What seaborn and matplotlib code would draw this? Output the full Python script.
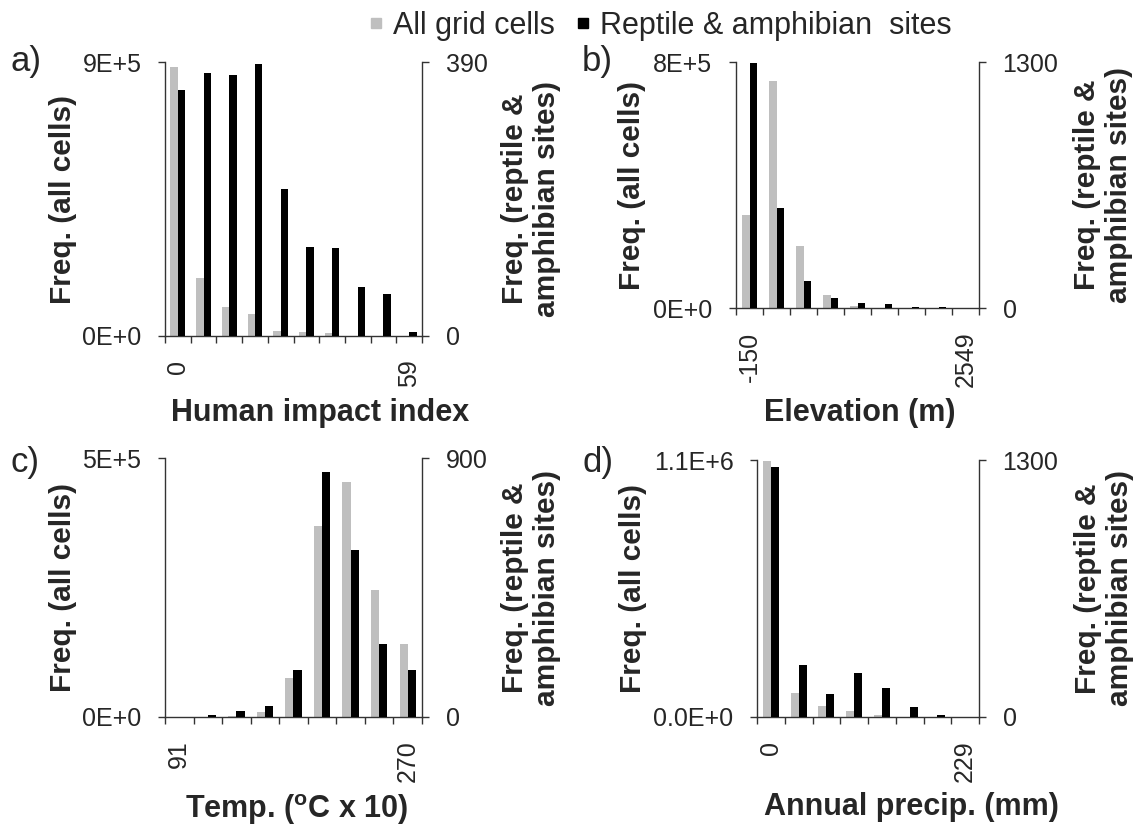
import numpy as np
import pandas as pd
import matplotlib
matplotlib.use("Agg")
import matplotlib.pyplot as plt
from matplotlib.lines import Line2D
from matplotlib.ticker import FixedLocator, FixedFormatter, NullFormatter
import seaborn as sns

# ---------------- data ----------------
series_names = ["All grid cells", "Reptile & amphibian  sites"]

hii_all = [883000, 189000, 94000, 73500, 17600, 12000, 8800, 1000, 500, 200]
hii_sites = [350, 375, 372, 387, 209, 127, 125, 70, 60, 6]
hii_ends = ["0", "59"]

elev_all = [304000, 739000, 202000, 43500, 5400, 1500, 500, 200, 100]
elev_sites = [1293, 528, 145, 51, 28, 23, 7, 3, 1]
elev_ends = ["-150", "2549"]

temp_all = [0, 200, 1000, 9600, 75000, 368000, 454000, 246000, 141000]
temp_sites = [0, 6, 20, 38, 163, 851, 581, 254, 165]
temp_ends = ["91", "270"]

prec_all = [1097000, 101000, 45500, 27000, 10000, 1500, 500, 200]
prec_sites = [1265, 261, 116, 222, 145, 49, 10, 2]
prec_ends = ["0", "229"]

left_ticks = {"a": ([0, 9e5], ["0E+0", "9E+5"]),
              "b": ([0, 8e5], ["0E+0", "8E+5"]),
              "c": ([0, 5e5], ["0E+0", "5E+5"]),
              "d": ([0, 1.1e6], ["0.0E+0", "1.1E+6"])}
right_ticks = {"a": ([0, 390], ["0", "390"]),
               "b": ([0, 1300], ["0", "1300"]),
               "c": ([0, 900], ["0", "900"]),
               "d": ([0, 1300], ["0", "1300"])}
xlabels = {"a": "Human impact index",
           "b": "Elevation (m)",
           "c": r"Temp. ($^{\mathbf{o}}$C x 10)",
           "d": "Annual precip. (mm)"}
ylabel_left = "Freq. (all cells)"
ylabel_right = "Freq. (reptile &\namphibian sites)"

# ---------------- style ----------------
sns.set_style("white")
plt.rcParams["font.family"] = ["Liberation Sans", "DejaVu Sans"]
plt.rcParams["mathtext.fontset"] = "custom"
plt.rcParams["mathtext.rm"] = "Liberation Sans"
plt.rcParams["mathtext.bf"] = "Liberation Sans:bold"
plt.rcParams["mathtext.it"] = "Liberation Sans:italic"

GRAY = "#BFBFBF"
BLACK = "#000000"
AXC = "#333333"
palette = {series_names[0]: GRAY, series_names[1]: BLACK}

W, H = 1144, 825
fig = plt.figure(figsize=(W / 100, H / 100), dpi=100)

# layout in pixels: left, right, top, bottom ; label positions
layout = {
    "a": dict(box=(165, 422, 62, 336), xlab=(320, 398), ylx=63, yrx=531, letter=(11, 62)),
    "b": dict(box=(736, 979, 62, 308), xlab=(860, 398), ylx=632, yrx=1103, letter=(582, 62)),
    "c": dict(box=(165, 422, 458, 717), xlab=(297, 792), ylx=63, yrx=531, letter=(11, 462)),
    "d": dict(box=(757, 979, 460, 717), xlab=(911, 792), ylx=633, yrx=1104, letter=(582, 462)),
}

panel_data = {
    "a": (hii_all, hii_sites, hii_ends),
    "b": (elev_all, elev_sites, elev_ends),
    "c": (temp_all, temp_sites, temp_ends),
    "d": (prec_all, prec_sites, prec_ends),
}

TICK_FS = 18
LAB_FS = 21.5
XLAB_FS = 22

for key in ["a", "b", "c", "d"]:
    all_vals, site_vals, ends = panel_data[key]
    L = layout[key]
    l, r, t, b = L["box"]
    ax = fig.add_axes([l / W, 1 - b / H, (r - l) / W, (b - t) / H])
    n = len(all_vals)
    bins = list(range(n))

    df_all = pd.DataFrame({"bin": bins, "series": series_names[0], "value": all_vals})
    df_sites = pd.DataFrame({"bin": bins, "series": series_names[1], "value": site_vals})

    sns.barplot(data=df_all, x="bin", y="value", hue="series", hue_order=series_names,
                order=bins, palette=palette, width=0.572, dodge=True, errorbar=None,
                legend=False, edgecolor="none", linewidth=0, ax=ax)
    ax2 = ax.twinx()
    sns.barplot(data=df_sites, x="bin", y="value", hue="series", hue_order=series_names,
                order=bins, palette=palette, width=0.572, dodge=True, errorbar=None,
                legend=False, edgecolor="none", linewidth=0, ax=ax2)

    ax.set_xlim(-0.5, n - 0.5)
    ax.xaxis.set_major_locator(FixedLocator(np.arange(-0.5, n, 1.0)))
    ax.xaxis.set_major_formatter(NullFormatter())
    ax.xaxis.set_minor_locator(FixedLocator([0, n - 1]))
    ax.xaxis.set_minor_formatter(FixedFormatter(ends))
    ax.tick_params(axis="x", which="major", direction="out", length=5, width=1, color=AXC, bottom=True)
    ax.tick_params(axis="x", which="minor", length=0, pad=17, labelsize=TICK_FS,
                   labelrotation=90, bottom=True)

    lt, ll = left_ticks[key]
    ax.set_ylim(lt[0], lt[1])
    ax.yaxis.set_major_locator(FixedLocator(lt))
    ax.yaxis.set_major_formatter(FixedFormatter(ll))
    ax.tick_params(axis="y", direction="out", length=5, width=1, color=AXC, pad=12,
                   labelsize=TICK_FS, left=True)

    rt, rl = right_ticks[key]
    ax2.set_ylim(rt[0], rt[1])
    ax2.yaxis.set_major_locator(FixedLocator(rt))
    ax2.yaxis.set_major_formatter(FixedFormatter(rl))
    ax2.tick_params(axis="y", direction="out", length=5, width=1, color=AXC, pad=12,
                    labelsize=TICK_FS, right=True)

    for s in ["top", "right"]:
        ax.spines[s].set_visible(False)
    for s in ["left", "bottom"]:
        ax.spines[s].set_color(AXC)
        ax.spines[s].set_linewidth(1)
    for s in ["top", "left", "bottom"]:
        ax2.spines[s].set_visible(False)
    ax2.spines["right"].set_color(AXC)
    ax2.spines["right"].set_linewidth(1)

    xw, xh = r - l, b - t
    ax.set_xlabel(xlabels[key], fontsize=XLAB_FS, fontweight="bold")
    ax.xaxis.set_label_coords((L["xlab"][0] - l) / xw, (b - L["xlab"][1]) / xh)
    ax.set_ylabel(ylabel_left, fontsize=LAB_FS, fontweight="bold", va="center")
    ax.yaxis.set_label_coords((L["ylx"] - l) / xw, 0.5)
    ax2.set_ylabel(ylabel_right, fontsize=LAB_FS, fontweight="bold", va="center",
                   linespacing=1.2)
    ax2.yaxis.set_label_coords((L["yrx"] - l) / xw, 0.5)

    fig.text(L["letter"][0] / W, 1 - L["letter"][1] / H, key + ")", fontsize=25,
             ha="left", va="center")

handles = [Line2D([], [], marker="s", ls="", color=GRAY, markersize=7.2),
           Line2D([], [], marker="s", ls="", color=BLACK, markersize=7.2)]
fig.legend(handles, series_names, ncol=2, loc="upper left",
           bbox_to_anchor=(364 / W, 1 - 11 / H), frameon=False, fontsize=22,
           handlelength=0.8, handletextpad=0.16, columnspacing=0.52,
           borderpad=0, borderaxespad=0)

fig.savefig("out.png", dpi=100)
